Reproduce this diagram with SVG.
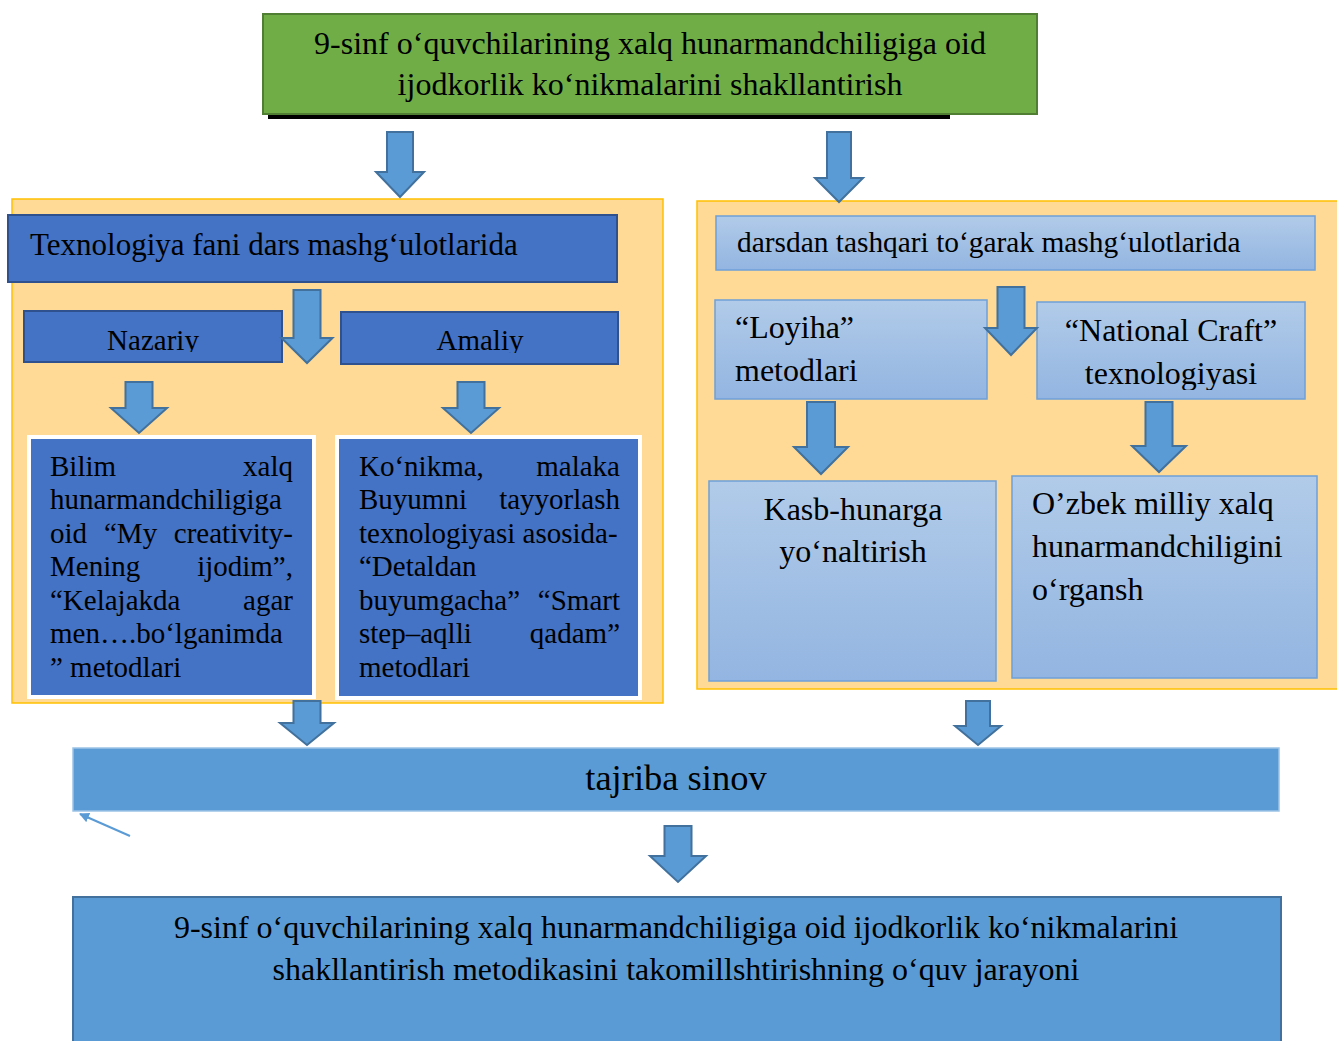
<svg xmlns="http://www.w3.org/2000/svg" width="1337" height="1041" viewBox="0 0 1337 1041">
<style>
text{font-family:"Liberation Serif","Times New Roman",serif;fill:#000}
.t32{font-size:32px}.t31{font-size:31px}.t29{font-size:29px}.t36{font-size:36.5px}
.mid{text-anchor:middle}.end{text-anchor:end}
.orange{fill:#FFD996;stroke:#FFC000;stroke-width:1.5}
.dark{fill:#4472C4;stroke:#2F528F;stroke-width:2}
.light{fill:url(#lg);stroke:#6FA0D8;stroke-width:1.5}
.arr{fill:#5B9BD5;stroke:#41719C;stroke-width:2;stroke-linejoin:miter}
</style>
<defs>
<linearGradient id="lg" x1="0" y1="0" x2="0" y2="1">
<stop offset="0" stop-color="#B1CBE9"/><stop offset="1" stop-color="#93B5E1"/>
</linearGradient>
<marker id="mh" viewBox="0 0 10 10" refX="9" refY="5" markerWidth="5" markerHeight="5" orient="auto">
<path d="M0,0 L10,5 L0,10 z" fill="#5B9BD5"/>
</marker>
<clipPath id="cNaz"><rect x="24" y="311" width="258" height="41"/></clipPath>
<clipPath id="cAma"><rect x="341" y="312" width="277" height="41"/></clipPath>
<clipPath id="cNat"><rect x="1037" y="302" width="268" height="88"/></clipPath>
</defs>
<rect width="1337" height="1041" fill="#fff"/>

<g id="n-title">
<rect x="268" y="113" width="682" height="6" fill="#000"/>
<rect x="263" y="14" width="774" height="100" fill="#70AD47" stroke="#507E32" stroke-width="2"/>
<text class="t32 mid" x="650" y="54">9-sinf o‘quvchilarining xalq hunarmandchiligiga oid</text>
<text class="t32 mid" x="650" y="95">ijodkorlik ko‘nikmalarini shakllantirish</text>
</g>

<g id="n-left-container"><rect class="orange" x="12" y="199" width="651" height="504"/></g>
<g id="n-right-container"><rect class="orange" x="697" y="201" width="645" height="488"/></g>

<g id="n-texnologiya">
<rect class="dark" x="8" y="215" width="609" height="67"/>
<text class="t31" x="30" y="255">Texnologiya fani dars mashg‘ulotlarida</text>
</g>
<g id="n-nazariy">
<rect class="dark" x="24" y="311" width="258" height="51"/>
<text class="t29 mid" x="153" y="350" clip-path="url(#cNaz)">Nazariy</text>
</g>
<g id="n-amaliy">
<rect class="dark" x="341" y="312" width="277" height="52"/>
<text class="t29 mid" x="480" y="350" clip-path="url(#cAma)">Amaliy</text>
</g>
<g id="n-bilim">
<rect x="29" y="437" width="285" height="260" fill="#4472C4" stroke="#fff" stroke-width="4"/>
<g class="t29">
<text x="50" y="476">Bilim</text><text class="end" x="293" y="476">xalq</text>
<text x="50" y="509">hunarmandchiligiga</text>
<text x="50" y="543">oid</text><text x="104" y="543">“My</text><text class="end" x="293" y="543">creativity-</text>
<text x="50" y="576">Mening</text><text class="end" x="293" y="576">ijodim”,</text>
<text x="50" y="610">“Kelajakda</text><text class="end" x="293" y="610">agar</text>
<text x="50" y="643">men….bo‘lganimda</text>
<text x="50" y="677">” metodlari</text>
</g>
</g>
<g id="n-konikma">
<rect x="337" y="437" width="303" height="261" fill="#4472C4" stroke="#fff" stroke-width="4"/>
<g class="t29">
<text x="359" y="476">Ko‘nikma,</text><text class="end" x="620" y="476">malaka</text>
<text x="359" y="509">Buyumni</text><text class="end" x="620" y="509">tayyorlash</text>
<text x="359" y="543">texnologiyasi asosida-</text>
<text x="359" y="576">“Detaldan</text>
<text x="359" y="610">buyumgacha”</text><text class="end" x="620" y="610">“Smart</text>
<text x="359" y="643">step–aqlli</text><text class="end" x="620" y="643">qadam”</text>
<text x="359" y="677">metodlari</text>
</g>
</g>

<g id="n-darsdan">
<rect class="light" x="716" y="216" width="599" height="54"/>
<text class="t29" x="737" y="252" style="font-size:29.4px">darsdan tashqari to‘garak mashg‘ulotlarida</text>
</g>
<g id="n-loyiha">
<rect class="light" x="715" y="300" width="272" height="99"/>
<text class="t32" x="735" y="338">“Loyiha”</text>
<text class="t32" x="735" y="381">metodlari</text>
</g>
<g id="n-national">
<rect class="light" x="1037" y="302" width="268" height="97"/>
<g clip-path="url(#cNat)">
<text class="t32 mid" x="1171" y="341">“National Craft”</text>
<text class="t32 mid" x="1171" y="384">texnologiyasi</text>
</g>
</g>
<g id="n-kasb">
<rect class="light" x="709" y="481" width="287" height="200"/>
<text class="t32 mid" x="853" y="520">Kasb-hunarga</text>
<text class="t32 mid" x="853" y="562">yo‘naltirish</text>
</g>
<g id="n-ozbek">
<rect class="light" x="1012" y="476" width="305" height="202"/>
<text class="t32" x="1032" y="514">O’zbek milliy xalq</text>
<text class="t32" x="1032" y="557">hunarmandchiligini</text>
<text class="t32" x="1032" y="600">o‘rgansh</text>
</g>

<g id="n-tajriba">
<rect x="73" y="748" width="1206" height="63" fill="#5B9BD5" stroke="#9DC3E6" stroke-width="1.5"/>
<text class="t36 mid" x="676" y="790">tajriba sinov</text>
</g>
<g id="n-result">
<rect x="73" y="897" width="1208" height="150" fill="#5B9BD5" stroke="#41719C" stroke-width="2"/>
<text class="t32 mid" x="676" y="938">9-sinf o‘quvchilarining xalq hunarmandchiligiga oid ijodkorlik ko‘nikmalarini</text>
<text class="t32 mid" x="676" y="980">shakllantirish metodikasini takomillshtirishning o‘quv jarayoni</text>
</g>

<g id="connectors">
<polygon class="arr" points="387,132 413,132 413,172 424,172 400,197 376,172 387,172"/>
<polygon class="arr" points="827,132 851,132 851,178 863,178 839,202 815,178 827,178"/>
<polygon class="arr" points="293.5,290 320.5,290 320.5,338 332.5,338 307,363 281.5,338 293.5,338"/>
<polygon class="arr" points="125.5,382 152.5,382 152.5,408 167,408 139,433 111,408 125.5,408"/>
<polygon class="arr" points="457.5,382 484.5,382 484.5,408 499,408 471,433 443,408 457.5,408"/>
<polygon class="arr" points="997.5,287 1024.5,287 1024.5,328 1037,328 1011,355 985,328 997.5,328"/>
<polygon class="arr" points="807,402 835,402 835,447 848,447 821,474 794,447 807,447"/>
<polygon class="arr" points="1145.5,402 1172.5,402 1172.5,446 1186,446 1159,472 1132,446 1145.5,446"/>
<polygon class="arr" points="293.5,701 320.5,701 320.5,723 334,723 307,745 280,723 293.5,723"/>
<polygon class="arr" points="966,701 990,701 990,726 1001,726 978,745 955,726 966,726"/>
<polygon class="arr" points="664.5,826 691.5,826 691.5,856 706,856 678,882 650,856 664.5,856"/>
<line x1="130" y1="836" x2="80" y2="814" stroke="#5B9BD5" stroke-width="2" marker-end="url(#mh)"/>
</g>
</svg>
